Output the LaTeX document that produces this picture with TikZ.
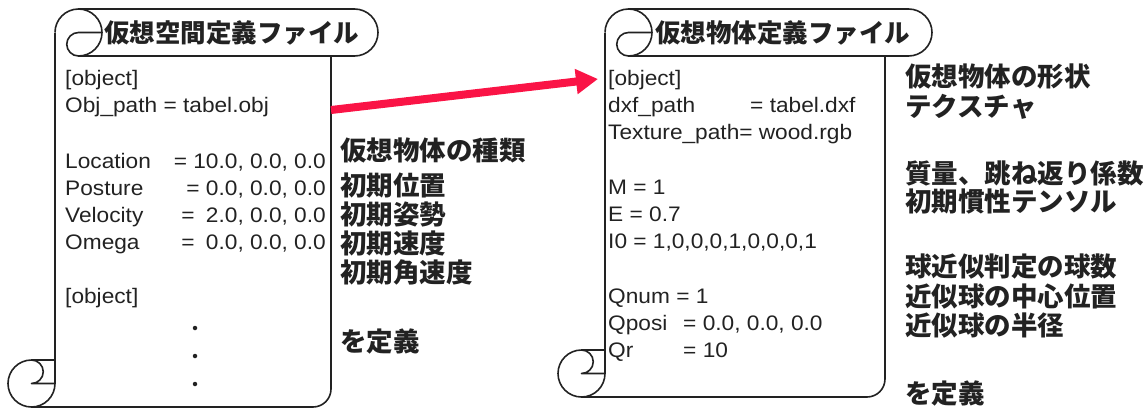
\documentclass[tikz,border=0pt]{standalone}
\usepackage{fontspec}
\setmainfont{Liberation Sans}
\newfontfamily\jp{Noto Sans CJK JP}
\usetikzlibrary{arrows.meta}
\definecolor{ink}{HTML}{222222}
\definecolor{arrowred}{RGB}{250,20,70}
\tikzset{
  scrollline/.style={line width=1.6pt, draw=ink, line join=round},
  body/.style={anchor=west, inner sep=0pt, text=ink, font=\fontsize{21}{24}\selectfont, text height=15pt, text depth=4pt, xscale=1.08},
  bodyeast/.style={body, anchor=east},
  jpnote/.style={anchor=west, inner sep=0pt, text=ink, font=\jp\bfseries\fontsize{26.5}{30}\selectfont},
  jptitle/.style={anchor=west, inner sep=0pt, text=ink, font=\jp\bfseries\fontsize{25.5}{28}\selectfont},
  dotmark/.style={circle, fill=ink, inner sep=0pt, minimum size=4.5pt}
}
\begin{document}
\begin{tikzpicture}[x=1pt,y=-1pt]
\useasboundingbox (0,0) rectangle (1147,410);
% ---------- left scroll ----------
\begin{scope}[scrollline]
  \draw (78.5,9) -- (354.5,9) arc[start angle=270, end angle=450, radius=23.5] -- (78.5,56);
  \draw (55,32.5) arc[start angle=180, end angle=450, radius=23.5]
        arc[start angle=90, end angle=270, radius=11.75] -- (102,32.5);
  \draw (55,32.5) -- (55,383.5);
  \draw (331,56) -- (331,389) arc[start angle=0, end angle=90, radius=18] -- (31.5,407);
  \draw (55,383.5) arc[start angle=0, end angle=270, radius=23.5]
        arc[start angle=270, end angle=450, radius=11.75] -- (55,383.5);
  \draw (31.5,360) -- (55,360);
\end{scope}
% ---------- right scroll ----------
\begin{scope}[scrollline]
  \draw (628.5,9) -- (908.5,9) arc[start angle=270, end angle=450, radius=23.5] -- (628.5,56);
  \draw (605,32.5) arc[start angle=180, end angle=450, radius=23.5]
        arc[start angle=90, end angle=270, radius=11.75] -- (652,32.5);
  \draw (605,32.5) -- (605,373.5);
  \draw (885,56) -- (885,379) arc[start angle=0, end angle=90, radius=18] -- (581.5,397);
  \draw (605,373.5) arc[start angle=0, end angle=270, radius=23.5]
        arc[start angle=270, end angle=450, radius=11.75] -- (605,373.5);
  \draw (581.5,350) -- (605,350);
\end{scope}
% ---------- titles ----------
\node[jptitle] (t1) at (104,33) {仮想空間定義ファイル};
\node[jptitle] (t2) at (655,33) {仮想物体定義ファイル};
% ---------- left body text ----------
\node[body] (l1) at (65,80) {[object]};
\node[body] (l2) at (65,107) {Obj\_path = tabel.obj};
\node[body] (l3) at (65,163) {Location};
\node[bodyeast] (l3v) at (326,163) {= 10.0, 0.0, 0.0};
\node[body] (l4) at (65,190) {Posture};
\node[bodyeast] (l4v) at (326,190) {= 0.0, 0.0, 0.0};
\node[body] (l5) at (65,217) {Velocity};
\node[bodyeast] (l5v) at (326,217) {=\hspace{0.5em}2.0, 0.0, 0.0};
\node[body] (l6) at (65,244) {Omega};
\node[bodyeast] (l6v) at (326,244) {=\hspace{0.5em}0.0, 0.0, 0.0};
\node[body] (l7) at (65,298) {[object]};
\node[dotmark] (d1) at (195,328) {};
\node[dotmark] (d2) at (195,356) {};
\node[dotmark] (d3) at (195,384) {};
% ---------- left notes ----------
\node[jpnote] (n1) at (340,150) {仮想物体の種類};
\node[jpnote] (n2) at (340,185) {初期位置};
\node[jpnote] (n3) at (340,214) {初期姿勢};
\node[jpnote] (n4) at (340,243) {初期速度};
\node[jpnote] (n5) at (340,272) {初期角速度};
\node[jpnote] (n6) at (340,341) {を定義};
% ---------- right body text ----------
\node[body] (r1) at (608,80) {[object]};
\node[body] (r2) at (608,107) {dxf\_path};
\node[body] (r2v) at (750,107) {= tabel.dxf};
\node[body] (r3) at (608,134) {Texture\_path= wood.rgb};
\node[body] (r4) at (608,189) {M = 1};
\node[body] (r5) at (608,216) {E = 0.7};
\node[body] (r6) at (608,243) {I0 = 1,0,0,0,1,0,0,0,1};
\node[body] (r7) at (608,298) {Qnum = 1};
\node[body] (r8) at (608,325) {Qposi};
\node[body] (r8v) at (683,325) {= 0.0, 0.0, 0.0};
\node[body] (r9) at (608,352) {Qr};
\node[body] (r9v) at (683,352) {= 10};
% ---------- right notes ----------
\node[jpnote] (m1) at (905,77) {仮想物体の形状};
\node[jpnote] (m2) at (905,107) {テクスチャ};
\node[jpnote] (m3) at (905,173) {質量、跳ね返り係数};
\node[jpnote] (m4) at (905,202) {初期慣性テンソル};
\node[jpnote] (m5) at (905,267) {球近似判定の球数};
\node[jpnote] (m6) at (905,297) {近似球の中心位置};
\node[jpnote] (m7) at (905,326) {近似球の半径};
\node[jpnote] (m8) at (905,393) {を定義};
% ---------- arrow ----------
\coordinate (a1) at (331,110);
\coordinate (a2) at (598,79);
\draw[arrowred, line width=8pt, -{Triangle[length=22pt, width=24pt]}] (a1) -- (a2);
\end{tikzpicture}
\end{document}
